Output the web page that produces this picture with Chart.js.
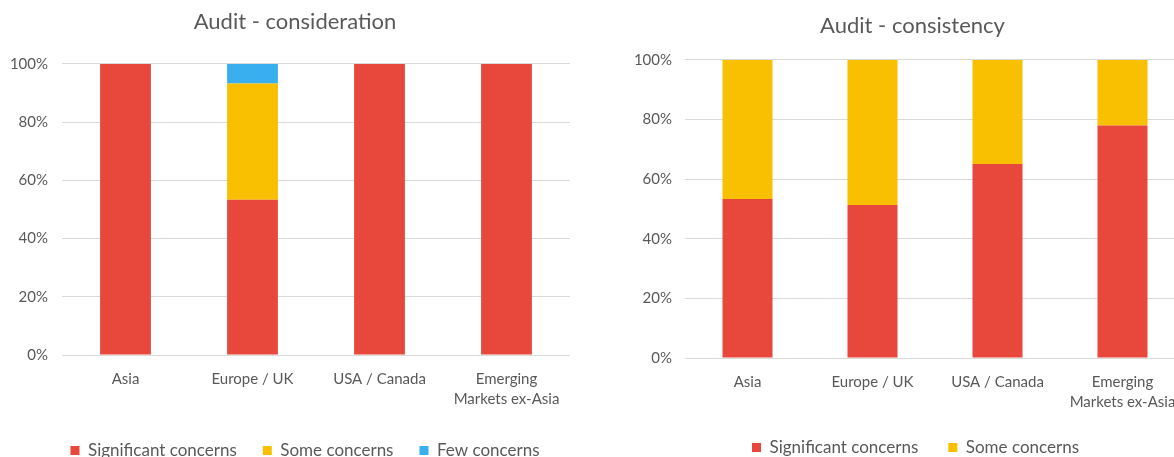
<!DOCTYPE html>
<html>
<head>
<meta charset="utf-8">
<script src="https://cdn.jsdelivr.net/npm/chart.js@4"></script>
<style>
  html, body { margin: 0; padding: 0; background: #fff; overflow: hidden; }
  body { width: 1174px; height: 457px; position: relative; }
  #left { position: absolute; left: 0; top: 0; }
  #right { position: absolute; left: 600px; top: 0; }
</style>
</head>
<body>
<canvas id="left" width="590" height="457"></canvas>
<canvas id="right" width="624" height="457"></canvas>
<script>
const regions = ['Asia', 'Europe / UK', 'USA / Canada', ['Emerging', 'Markets ex-Asia']];
const yTicks = [0, 20, 40, 60, 80, 100];

// Audit - consideration
const considSignificant = [100, 53.3, 100, 100];
const considSome = [0, 40, 0, 0];
const considFew = [0, 6.7, 0, 0];

// Audit - consistency
const consistSignificant = [53.3, 51.3, 65.1, 78.0];
const consistSome = [46.7, 48.7, 34.9, 22.0];

const RED = '#e8473c';
const YELLOW = '#f8c000';
const BLUE = '#3aafef';
const GREY = '#595959';
const GRID = '#d9d9d9';
const FONT = 'Lato';

// nudge title / legend sideways, they are not centred on the plot in the original
const nudge = {
    id: 'nudge',
    afterLayout(chart, args, opts) {
        chart.titleBlock.left += opts.title;
        chart.titleBlock.right += opts.title;
        chart.legend.left += opts.legend;
        chart.legend.right += opts.legend;
    }
};

function makeChart(id, title, datasets, o) {
    const ctx = document.getElementById(id).getContext('2d');
    return new Chart(ctx, {
        type: 'bar',
        data: { labels: regions, datasets: datasets },
        plugins: [nudge],
        options: {
            responsive: false,
            animation: false,
            layout: { padding: { top: o.padTop, right: o.padRight, left: 0, bottom: o.padBottom } },
            datasets: { bar: { barPercentage: 0.4, categoryPercentage: 1.0 } },
            plugins: {
                nudge: { title: o.titleShift, legend: o.legendShift },
                title: {
                    display: true,
                    text: title,
                    color: GREY,
                    font: { family: FONT, size: 22, weight: 'normal' },
                    padding: { top: 0, bottom: o.titleGap }
                },
                legend: {
                    display: true,
                    position: 'bottom',
                    labels: {
                        color: GREY,
                        font: { family: FONT, size: 17 },
                        boxWidth: 9,
                        boxHeight: 9,
                        padding: o.legendGap
                    }
                },
                tooltip: { enabled: false }
            },
            scales: {
                x: {
                    stacked: true,
                    grid: { display: false },
                    border: { display: false },
                    ticks: { color: GREY, font: { family: FONT, size: 15, lineHeight: 1.33 }, padding: 6, maxRotation: 0 },
                    afterFit: function (s) { s.height = o.xHeight; }
                },
                y: {
                    stacked: true,
                    min: 0,
                    max: 100,
                    grid: { color: GRID, drawTicks: false },
                    border: { display: false },
                    afterBuildTicks: function (s) { s.ticks = yTicks.map(v => ({ value: v })); },
                    ticks: {
                        color: GREY,
                        font: { family: FONT, size: 15 },
                        padding: o.yPad,
                        callback: v => v + '%'
                    },
                    afterFit: function (s) { s.width = o.yWidth; }
                }
            }
        }
    });
}

makeChart('left', 'Audit - consideration', [
    { label: 'Significant concerns', data: considSignificant, backgroundColor: RED },
    { label: 'Some concerns', data: considSome, backgroundColor: YELLOW },
    { label: 'Few concerns', data: considFew, backgroundColor: BLUE }
], { padTop: 9, titleGap: 28.5, padRight: 20, padBottom: -12, xHeight: 61, yWidth: 62, yPad: 14, titleShift: 10, legendShift: 20, legendGap: 26 });

makeChart('right', 'Audit - consistency', [
    { label: 'Significant concerns', data: consistSignificant, backgroundColor: RED },
    { label: 'Some concerns', data: consistSome, backgroundColor: YELLOW }
], { padTop: 13, titleGap: 20.5, padRight: 39, padBottom: -9, xHeight: 51, yWidth: 85, yPad: 13, titleShift: 20, legendShift: 23, legendGap: 30 });
</script>
</body>
</html>
